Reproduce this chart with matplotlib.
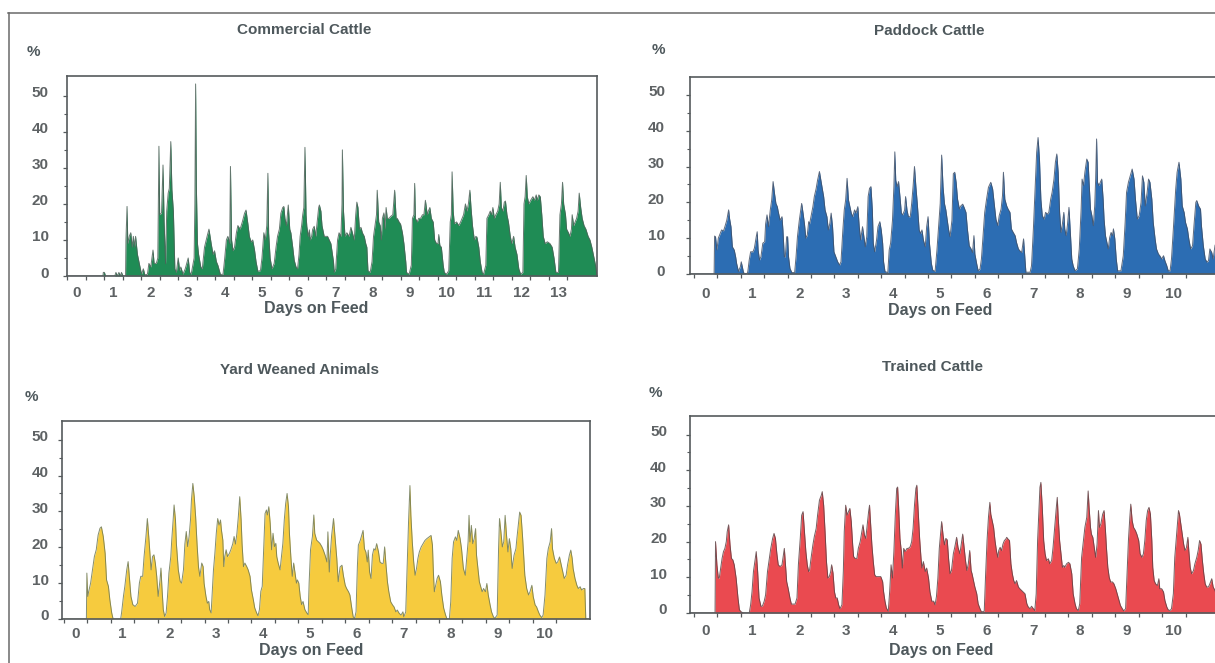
import numpy as np
import matplotlib
matplotlib.use("Agg")
import matplotlib.pyplot as plt
import matplotlib.transforms as mtransforms
from matplotlib.lines import Line2D

# ---------------- data (day on feed, % of animals at the feeder) ----------------
titles = ["Commercial Cattle", "Paddock Cattle", "Yard Weaned Animals", "Trained Cattle"]
xlabel = "Days on Feed"
ylabel = "%"
yticks = [0, 10, 20, 30, 40, 50]
commercial_days = list(range(0, 14))
other_days = list(range(0, 11))

commercial_pts = [
    (-0.22, 0), (0.72, 0), (0.73, 1), (0.76, 1), (0.79, 0), (1.04, 0), (1.07, 1), (1.11, 0), (1.15, 1), (1.19, 0), (1.22, 1), (1.26, 0),
    (1.33, 0), (1.34, 10), (1.37, 19.3), (1.39, 9), (1.43, 11), (1.47, 12), (1.51, 8), (1.54, 11), (1.57, 8), (1.60, 11), (1.65, 6),
    (1.72, 2.5), (1.76, 0.5), (1.81, 2), (1.85, 0.3), (1.92, 0.5), (1.96, 3.5), (2.01, 2.5), (2.07, 7.2), (2.10, 3.5), (2.16, 3.5), (2.20, 5),
    (2.23, 36), (2.25, 17), (2.30, 17.5), (2.34, 30.8), (2.37, 15), (2.41, 3.4), (2.44, 18), (2.48, 23), (2.51, 24.3), (2.55, 37.3),
    (2.58, 24), (2.62, 18), (2.66, 2), (2.70, 1), (2.75, 5), (2.79, 1.5), (2.82, 2.5), (2.88, 0.5), (2.94, 2), (3.02, 5), (3.06, 1), (3.10, 0.5),
    (3.18, 5), (3.20, 20), (3.22, 53.3), (3.24, 25), (3.27, 9), (3.30, 6), (3.36, 2.5), (3.40, 2), (3.46, 8), (3.53, 11), (3.58, 13),
    (3.64, 9), (3.69, 6), (3.73, 7), (3.78, 4), (3.82, 3), (3.89, 0.4), (3.96, 0.5),
    (4.00, 4.4), (4.05, 10), (4.09, 11), (4.14, 9), (4.16, 30.4), (4.19, 10), (4.23, 7), (4.27, 8), (4.32, 12), (4.36, 14), (4.42, 13),
    (4.48, 15), (4.54, 17.4), (4.58, 18.3), (4.63, 14.5), (4.67, 11), (4.72, 9.4), (4.76, 10), (4.81, 7.2), (4.85, 4), (4.90, 1.3), (4.97, 1.5),
    (5.01, 5), (5.06, 12), (5.10, 10), (5.14, 14), (5.17, 28.5), (5.19, 12), (5.23, 5), (5.28, 2), (5.34, 3.5), (5.39, 8), (5.43, 11),
    (5.48, 13), (5.52, 17.4), (5.57, 19), (5.60, 19.3), (5.63, 16), (5.67, 14), (5.72, 19.7), (5.76, 13), (5.79, 12), (5.84, 8), (5.88, 4.4),
    (5.93, 2.5), (5.97, 2),
    (6.01, 6), (6.04, 11), (6.08, 14), (6.11, 17), (6.14, 19), (6.17, 35.7), (6.20, 17), (6.22, 13.8), (6.26, 11), (6.29, 12.8), (6.31, 10),
    (6.35, 11), (6.38, 13), (6.42, 13.8), (6.46, 11), (6.51, 16), (6.54, 19), (6.56, 19.7), (6.60, 18), (6.63, 14), (6.69, 11), (6.78, 11),
    (6.87, 9), (6.94, 4), (6.96, 1),
    (7.00, 2), (7.05, 10), (7.09, 12), (7.14, 11), (7.17, 20), (7.18, 35), (7.21, 18), (7.25, 11), (7.30, 12), (7.36, 11), (7.41, 13.5),
    (7.45, 12), (7.50, 10), (7.54, 17), (7.57, 20.5), (7.60, 19), (7.64, 13), (7.68, 13.5), (7.72, 12), (7.77, 11), (7.81, 9), (7.84, 8),
    (7.87, 1.5), (7.93, 1),
    (7.98, 4), (8.02, 11), (8.06, 14), (8.10, 17), (8.12, 23.8), (8.16, 15), (8.20, 14), (8.23, 10), (8.26, 16), (8.30, 17.5), (8.33, 13),
    (8.36, 19), (8.39, 16), (8.44, 16), (8.48, 16.5), (8.54, 17), (8.59, 23.8), (8.63, 16), (8.66, 16), (8.71, 15), (8.75, 14.4), (8.80, 12),
    (8.84, 9), (8.89, 4), (8.91, 1), (8.98, 0.5),
    (9.04, 3), (9.07, 16), (9.11, 17), (9.13, 25.7), (9.15, 16), (9.20, 15), (9.24, 16), (9.29, 16), (9.34, 17), (9.38, 17), (9.42, 21),
    (9.47, 17), (9.50, 18), (9.54, 19), (9.58, 16), (9.63, 15), (9.67, 10), (9.72, 9), (9.76, 9), (9.78, 11.5), (9.81, 8.5), (9.85, 8),
    (9.90, 3), (9.93, 1), (9.99, 0.5),
    (10.05, 1.5), (10.09, 15), (10.12, 17), (10.14, 28.9), (10.17, 18), (10.20, 14.5), (10.26, 15), (10.32, 14), (10.37, 15), (10.41, 16),
    (10.45, 17), (10.50, 20), (10.54, 18), (10.58, 20), (10.62, 23.8), (10.65, 19), (10.69, 14), (10.74, 10), (10.78, 11), (10.81, 10.8),
    (10.86, 8), (10.90, 4), (10.95, 1), (10.99, 0.5),
    (11.05, 3), (11.08, 16), (11.13, 17), (11.17, 18), (11.21, 17), (11.24, 19), (11.28, 16), (11.32, 17), (11.37, 18), (11.41, 20),
    (11.44, 26), (11.47, 19), (11.51, 18), (11.55, 20.5), (11.58, 20.8), (11.62, 17), (11.66, 15), (11.71, 11), (11.75, 9), (11.80, 11),
    (11.84, 8), (11.89, 6), (11.94, 2), (11.99, 0.5),
    (12.05, 1), (12.08, 20), (12.11, 22), (12.14, 27.9), (12.17, 22), (12.21, 20), (12.26, 21), (12.32, 22), (12.36, 21), (12.41, 22.5),
    (12.44, 21), (12.48, 22.5), (12.52, 22), (12.56, 17), (12.60, 11), (12.65, 9), (12.71, 9.5), (12.78, 9), (12.84, 8), (12.89, 5), (12.94, 1),
    (13.01, 1), (13.05, 17), (13.09, 20), (13.12, 26), (13.15, 20), (13.20, 17), (13.23, 13), (13.28, 12), (13.32, 11), (13.36, 13),
    (13.38, 17), (13.42, 14), (13.46, 15), (13.50, 16), (13.54, 18), (13.57, 23), (13.61, 19), (13.65, 16), (13.70, 14), (13.75, 13),
    (13.81, 11), (13.86, 10), (13.91, 8), (13.97, 5), (14.01, 3), (14.05, 0),
]

paddock_pts = [
    (-0.35, 0), (0.18, 0), (0.19, 10.6), (0.21, 10.4), (0.24, 6.7), (0.27, 10), (0.31, 11.3), (0.34, 12.3), (0.38, 12), (0.41, 13.2),
    (0.45, 15), (0.49, 17.9), (0.51, 15.5), (0.54, 13.2), (0.57, 7.6), (0.61, 6.7), (0.64, 4.8), (0.66, 3), (0.70, 0.7), (0.74, 2),
    (0.76, 3.4), (0.79, 1.6), (0.81, 0.3), (0.88, 0),
    (0.90, 0.7), (0.93, 3.9), (0.96, 6.2), (1.01, 6.2), (1.04, 7.2), (1.08, 10.4), (1.10, 11.8), (1.12, 6.7), (1.15, 3.9), (1.18, 4.8),
    (1.22, 8.6), (1.26, 9), (1.28, 14), (1.31, 16.5), (1.34, 13.2), (1.38, 17.9), (1.41, 20.7), (1.44, 25.8), (1.47, 22.5), (1.50, 19.7),
    (1.53, 18.8), (1.55, 17.4), (1.59, 15), (1.63, 16), (1.65, 12.3), (1.68, 4.8), (1.70, 4.8), (1.73, 10.4), (1.75, 10.4), (1.77, 4.8),
    (1.80, 1.6), (1.84, 0.4),
    (1.90, 0.4), (1.93, 4.8), (1.96, 10.4), (2.00, 15), (2.03, 17.9), (2.05, 19.7), (2.08, 17), (2.11, 14), (2.14, 10), (2.17, 10.9),
    (2.20, 14.6), (2.22, 14), (2.25, 16), (2.29, 18.8), (2.32, 21.6), (2.36, 23.9), (2.39, 26.2), (2.43, 28.6), (2.46, 26.2), (2.49, 23.9),
    (2.52, 21.6), (2.55, 17.9), (2.59, 16), (2.62, 12.3), (2.65, 14), (2.68, 17), (2.71, 13.2), (2.74, 6.2), (2.78, 4.8), (2.82, 3.4), (2.86, 2.5),
    (2.89, 3.4), (2.93, 12.3), (2.96, 17.9), (2.99, 20.7), (3.02, 26.7), (3.05, 20.7), (3.08, 18.8), (3.11, 17), (3.14, 16), (3.18, 17.9),
    (3.21, 17), (3.25, 18.8), (3.28, 13.2), (3.31, 9.5), (3.35, 13.2), (3.38, 10.4), (3.41, 7.6), (3.44, 10.4), (3.47, 21.6), (3.50, 23.9),
    (3.53, 24.4), (3.56, 17.9), (3.58, 8.6), (3.61, 6.2), (3.65, 9.5), (3.68, 13.2), (3.72, 14.6), (3.75, 12.3), (3.78, 8.6), (3.80, 3.4),
    (3.83, 0.7), (3.89, 0.4),
    (3.92, 6.7), (3.95, 8.6), (3.99, 15), (4.02, 24.4), (4.04, 34.1), (4.06, 26.2), (4.09, 24.4), (4.12, 25.8), (4.15, 21.6), (4.18, 17),
    (4.21, 16.5), (4.25, 17.9), (4.27, 21.6), (4.30, 17.9), (4.33, 16), (4.37, 16), (4.40, 19.7), (4.43, 24.4), (4.46, 30), (4.49, 24.4),
    (4.52, 19.7), (4.56, 12.3), (4.59, 11.3), (4.62, 12.3), (4.65, 9.5), (4.69, 7.6), (4.72, 13.2), (4.75, 16), (4.78, 8.6), (4.82, 3),
    (4.85, 1.1), (4.90, 0.7),
    (4.94, 6.7), (4.97, 12.3), (5.01, 19.7), (5.04, 33.2), (5.07, 24.4), (5.10, 19.7), (5.13, 17.9), (5.16, 15), (5.19, 12.3), (5.22, 10.4),
    (5.26, 15), (5.29, 28), (5.32, 28.4), (5.35, 25.6), (5.38, 20.9), (5.42, 18.1), (5.45, 19), (5.49, 19.5), (5.52, 18.6), (5.56, 17.2),
    (5.59, 12.6), (5.63, 7.9), (5.67, 7), (5.70, 6), (5.73, 10.7), (5.75, 5.6), (5.79, 2.8), (5.82, 0.9), (5.86, 1.4),
    (5.89, 4.2), (5.93, 11.6), (5.96, 17.2), (6.00, 20.9), (6.04, 24.2), (6.09, 25.6), (6.13, 23.7), (6.16, 20), (6.20, 15.3), (6.24, 13.5),
    (6.27, 16.3), (6.31, 18.1), (6.34, 21.9), (6.36, 28.4), (6.39, 20.9), (6.43, 19), (6.46, 18.1), (6.50, 17.2), (6.53, 12.6), (6.57, 11.6),
    (6.61, 10.7), (6.64, 8.8), (6.68, 7), (6.71, 6.5), (6.75, 6), (6.79, 9.8), (6.82, 4.2), (6.84, 0.5), (6.93, 0.5),
    (6.96, 2.3), (7.00, 12.6), (7.03, 21.9), (7.07, 34), (7.10, 38.1), (7.13, 32.1), (7.16, 20.9), (7.19, 16.3), (7.23, 15.3), (7.26, 17.2),
    (7.30, 16.7), (7.33, 17.2), (7.37, 20.9), (7.40, 22.8), (7.44, 26.5), (7.47, 31.2), (7.50, 33.5), (7.53, 28.4), (7.56, 17.2), (7.59, 11.6),
    (7.62, 14), (7.65, 17.2), (7.67, 12.6), (7.70, 10.7), (7.73, 14), (7.76, 18.6), (7.79, 11.6), (7.82, 4.2), (7.85, 2.3), (7.89, 0.9), (7.94, 1.4),
    (7.98, 7), (8.02, 18.1), (8.04, 26.5), (8.07, 24.7), (8.10, 28.4), (8.14, 32.1), (8.17, 31.2), (8.19, 25.6), (8.22, 18.1), (8.25, 16.3),
    (8.28, 13.5), (8.31, 19), (8.33, 26.5), (8.35, 37.7), (8.37, 25.6), (8.40, 24.7), (8.43, 25.6), (8.46, 26.5), (8.49, 20.9), (8.51, 15.3),
    (8.54, 10.7), (8.57, 8.8), (8.60, 7), (8.63, 10.2), (8.66, 11.6), (8.69, 10.7), (8.71, 12.6), (8.74, 9.8), (8.77, 4.2), (8.80, 0.9), (8.87, 0.9),
    (8.92, 5.1), (8.96, 14.4), (8.99, 22.8), (9.03, 25.6), (9.07, 27.4), (9.11, 29.3), (9.15, 26.5), (9.18, 20.9), (9.22, 15.3), (9.26, 16.3),
    (9.30, 20), (9.33, 27.4), (9.36, 25.6), (9.39, 19), (9.43, 22.8), (9.46, 26.5), (9.49, 25.6), (9.53, 20.9), (9.56, 14.4), (9.60, 9.8),
    (9.63, 7), (9.67, 5.6), (9.70, 5.1), (9.74, 4.2), (9.78, 5.1), (9.81, 3.7), (9.85, 2.3), (9.88, 0.9), (9.92, 0.9),
    (9.95, 4.2), (9.99, 12.6), (10.04, 23.7), (10.07, 28.4), (10.11, 31.2), (10.15, 26.5), (10.18, 19), (10.22, 17.2), (10.25, 14.4),
    (10.29, 12.6), (10.32, 9.8), (10.36, 7), (10.40, 7.9), (10.43, 13.5), (10.47, 20), (10.49, 20.5), (10.53, 19), (10.57, 18.1),
    (10.59, 13.5), (10.63, 7.9), (10.67, 4.2), (10.71, 3.3), (10.74, 3.7), (10.77, 7), (10.81, 6), (10.84, 4.2), (10.88, 8), (10.92, 9),
    (10.96, 5), (11.0, 2), (11.05, 0), (11.25, 0),
]

yard_pts = [
    (-0.3, 0), (0.23, 0), (0.24, 12.8), (0.26, 6.3), (0.28, 7.7), (0.32, 10), (0.36, 13.7), (0.40, 17.4), (0.44, 19.3), (0.48, 23.4),
    (0.52, 25.3), (0.55, 25.7), (0.59, 23), (0.63, 18.3), (0.66, 10.9), (0.70, 9.1), (0.73, 5.4), (0.77, 1.7), (0.80, 0), (0.96, 0),
    (0.98, 1.7), (1.02, 6.3), (1.05, 9.1), (1.09, 13.7), (1.12, 16), (1.14, 12.8), (1.18, 6.3), (1.22, 4), (1.27, 3.5), (1.32, 4.4),
    (1.36, 10), (1.39, 11.9), (1.43, 11.9), (1.46, 17.4), (1.50, 23), (1.53, 28), (1.56, 23), (1.59, 17.4), (1.61, 13.7), (1.64, 17.4),
    (1.67, 17.9), (1.70, 15.6), (1.73, 11.9), (1.76, 6.3), (1.80, 10.9), (1.82, 14.2), (1.84, 9.1), (1.87, 2.6), (1.90, 0.7),
    (1.93, 1.7), (1.96, 6.3), (1.99, 12.8), (2.03, 17.4), (2.05, 22), (2.08, 27.6), (2.10, 31.8), (2.13, 27.6), (2.15, 20.9), (2.19, 13.7),
    (2.23, 10.5), (2.26, 10), (2.30, 13.7), (2.33, 20.9), (2.36, 24.4), (2.39, 20.2), (2.42, 23), (2.45, 27.6), (2.47, 33.1), (2.50, 37.8),
    (2.53, 34.1), (2.56, 28.5), (2.59, 20.9), (2.62, 14.6), (2.65, 11.9), (2.69, 15.6), (2.72, 14.6), (2.74, 10), (2.78, 6.3), (2.81, 4.4),
    (2.84, 4.9), (2.86, 2.6),
    (2.89, 1.7), (2.91, 6.3), (2.94, 13.7), (2.97, 18.3), (3.00, 23.9), (3.03, 28), (3.06, 26.2), (3.09, 27.6), (3.11, 24.8), (3.14, 22),
    (3.16, 14.6), (3.18, 17.4), (3.21, 19.3), (3.24, 17.4), (3.28, 18.3), (3.31, 19.3), (3.35, 20.9), (3.38, 23), (3.41, 20.9), (3.44, 23.9),
    (3.47, 28.5), (3.50, 34.1), (3.53, 27.6), (3.55, 20.9), (3.58, 14.6), (3.61, 15.6), (3.65, 14.6), (3.68, 13.7), (3.72, 11.9), (3.75, 8.1),
    (3.79, 5.4), (3.82, 3.1), (3.86, 1.7), (3.89, 0.9),
    (3.92, 2.6), (3.95, 7.7), (3.98, 9.1), (4.01, 19.3), (4.04, 29.4), (4.07, 30.4), (4.09, 29), (4.12, 31.3), (4.15, 26.7), (4.18, 19.3),
    (4.21, 23.9), (4.24, 20.2), (4.27, 21.1), (4.29, 17.4), (4.32, 15.6), (4.36, 13.7), (4.39, 17.4), (4.42, 21.1), (4.45, 27.6), (4.48, 32.2),
    (4.51, 35), (4.54, 31.3), (4.56, 23.9), (4.59, 17.4), (4.62, 11.9), (4.65, 15.6), (4.68, 12.8), (4.71, 10), (4.73, 10.9), (4.76, 10),
    (4.79, 6.3), (4.82, 4), (4.85, 4.9), (4.89, 2.6), (4.93, 1.7), (4.96, 1.2),
    (4.98, 10), (5.01, 19.3), (5.05, 23), (5.08, 29), (5.10, 23.9), (5.14, 22), (5.17, 21.6), (5.21, 21.1), (5.25, 20.2), (5.28, 19.3),
    (5.32, 17.8), (5.36, 15.9), (5.38, 24.3), (5.41, 13.1), (5.43, 17.8), (5.46, 23.3), (5.50, 28), (5.53, 23.3), (5.57, 16.9), (5.60, 10.4),
    (5.64, 14.5), (5.68, 15), (5.71, 12.2), (5.75, 9.4), (5.78, 8.5), (5.82, 7.6), (5.85, 6.7), (5.89, 3), (5.92, 0.6), (5.95, 0.2),
    (5.98, 2), (6.01, 15), (6.03, 20.6), (6.07, 21.9), (6.10, 23.3), (6.13, 24.7), (6.16, 19.6), (6.19, 18.7), (6.22, 15.9), (6.24, 19.2),
    (6.27, 13.1), (6.30, 11.3), (6.33, 17.8), (6.36, 19.6), (6.39, 19.2), (6.42, 21), (6.46, 18.7), (6.49, 15.9), (6.53, 15.5), (6.56, 15.5),
    (6.59, 20.1), (6.62, 15), (6.65, 10.4), (6.68, 7.6), (6.72, 4.8), (6.76, 3.9), (6.79, 3.4), (6.83, 2), (6.86, 2.5), (6.90, 1.6),
    (6.94, 1.1), (6.98, 2), (7.00, 0.6),
    (7.04, 2), (7.07, 15), (7.10, 27), (7.13, 37.2), (7.15, 28.9), (7.18, 21.5), (7.21, 15.9), (7.24, 12.2), (7.27, 14.1), (7.30, 16.9),
    (7.33, 18.7), (7.37, 20.1), (7.41, 21), (7.45, 21.9), (7.49, 22.4), (7.54, 22.9), (7.58, 23.3), (7.61, 20.6), (7.63, 13.1), (7.65, 7.6),
    (7.68, 9.4), (7.71, 11.3), (7.74, 12.2), (7.78, 10.4), (7.81, 6.7), (7.85, 3), (7.89, 1.1), (7.92, 0), (7.97, 0),
    (8.00, 4.8), (8.03, 16.9), (8.06, 21.5), (8.10, 22.9), (8.13, 21.9), (8.16, 24.7), (8.20, 22.4), (8.23, 19.6), (8.27, 14.1), (8.31, 12.2),
    (8.34, 16.9), (8.37, 21.5), (8.39, 28.9), (8.41, 21.5), (8.44, 26.1), (8.47, 21), (8.50, 22.4), (8.53, 25.2), (8.55, 17.8), (8.58, 14.1),
    (8.61, 10.4), (8.65, 8.5), (8.67, 7.6), (8.70, 8.5), (8.74, 7.6), (8.77, 9.9), (8.80, 6.7), (8.84, 3.9), (8.87, 2), (8.91, 0.6), (8.94, 0.2),
    (8.99, 1.1), (9.02, 19.6), (9.04, 28), (9.07, 24.3), (9.10, 20.1), (9.13, 21.5), (9.16, 28.9), (9.19, 23.3), (9.22, 18.7), (9.25, 22.4),
    (9.28, 19.6), (9.31, 14.1), (9.35, 17.8), (9.39, 19.6), (9.41, 22.4), (9.44, 26.1), (9.47, 29.8), (9.50, 28.9), (9.53, 23.3), (9.56, 16.9),
    (9.58, 12.2), (9.62, 8.5), (9.66, 6.7), (9.69, 7.6), (9.73, 9.4), (9.76, 6.2), (9.80, 3.9), (9.83, 3.4), (9.87, 2), (9.90, 1.1), (9.94, 0.4),
    (9.97, 1.1), (10.01, 6.7), (10.05, 16.9), (10.08, 19.6), (10.12, 21.5), (10.15, 25.2), (10.17, 19.6), (10.21, 16.9), (10.25, 15.5),
    (10.28, 15.9), (10.32, 17.3), (10.35, 15.5), (10.39, 13.1), (10.42, 11.3), (10.46, 12.2), (10.49, 15), (10.53, 17.8), (10.56, 19.2),
    (10.59, 16.9), (10.61, 14.1), (10.65, 11.3), (10.69, 9.4), (10.72, 8.5), (10.76, 9), (10.79, 8.1), (10.83, 8.5), (10.86, 8.5),
    (10.88, 0), (10.97, 0),
]

trained_pts = [
    (-0.35, 0), (0.20, 0), (0.21, 20), (0.24, 13.5), (0.27, 9.8), (0.29, 9.8), (0.32, 12.6), (0.35, 15.3), (0.38, 17.2), (0.41, 18.1),
    (0.44, 20), (0.46, 22.8), (0.49, 24.7), (0.52, 19.1), (0.55, 15.3), (0.58, 14.9), (0.61, 13.5), (0.65, 9.8), (0.69, 4.2), (0.72, 0.9),
    (0.76, 0.3), (0.81, 0), (0.93, 0),
    (0.96, 2.3), (0.99, 6), (1.02, 11.6), (1.06, 15.3), (1.08, 17.2), (1.11, 11.6), (1.14, 4.2), (1.18, 1.9), (1.21, 1.9), (1.25, 3.3),
    (1.28, 5.1), (1.32, 11.6), (1.35, 14.4), (1.39, 18.1), (1.43, 20.9), (1.46, 22.3), (1.49, 20.9), (1.52, 16.7), (1.55, 13.5), (1.59, 13),
    (1.63, 13.5), (1.65, 15.3), (1.68, 18.1), (1.70, 14.4), (1.73, 8.8), (1.76, 7), (1.80, 4.2), (1.83, 2.5), (1.91, 2.5),
    (1.95, 4.2), (1.98, 13.5), (2.02, 20.9), (2.05, 27.4), (2.08, 28.4), (2.11, 22.8), (2.14, 17.2), (2.17, 13.5), (2.20, 11.6), (2.22, 12.1),
    (2.25, 15.3), (2.29, 19.1), (2.32, 21.4), (2.36, 23.7), (2.39, 27.4), (2.43, 31.6), (2.47, 33), (2.49, 34), (2.52, 30.2), (2.55, 22.8),
    (2.58, 14.4), (2.61, 9.8), (2.64, 10.2), (2.67, 11.6), (2.69, 13.5), (2.72, 11.2), (2.75, 6), (2.78, 4.2), (2.81, 4.2), (2.84, 2.3), (2.87, 1.2),
    (2.91, 2.3), (2.94, 11.6), (2.96, 22.8), (2.99, 30.2), (3.02, 27.4), (3.05, 28.4), (3.08, 29.3), (3.11, 25.6), (3.14, 19.1), (3.16, 15.8),
    (3.19, 15.3), (3.23, 15.3), (3.26, 18.1), (3.30, 20), (3.33, 22.3), (3.36, 24.7), (3.39, 21.9), (3.42, 20.9), (3.45, 24.7), (3.48, 28.4),
    (3.50, 30.2), (3.52, 25.6), (3.55, 19.1), (3.58, 14.4), (3.61, 10.7), (3.64, 10.2), (3.69, 10.2), (3.74, 10.2), (3.78, 8.8), (3.80, 6),
    (3.83, 3.3), (3.86, 1.4), (3.90, 0.5),
    (3.93, 6), (3.96, 13.5), (3.99, 9.8), (4.02, 17.2), (4.05, 27.4), (4.08, 34.9), (4.10, 35.3), (4.12, 30.2), (4.15, 20.9), (4.18, 17.2),
    (4.20, 12.6), (4.23, 18.1), (4.26, 17.2), (4.30, 18.1), (4.33, 18.1), (4.37, 18.6), (4.40, 20), (4.43, 23.7), (4.46, 30.2), (4.49, 34.9),
    (4.51, 35.8), (4.54, 28.4), (4.57, 20.9), (4.60, 15.3), (4.62, 12.6), (4.65, 14.4), (4.69, 11.6), (4.72, 12.6), (4.76, 9.8), (4.79, 6),
    (4.83, 3.3), (4.87, 3.3), (4.90, 2.3),
    (4.93, 4.7), (4.96, 9.8), (4.99, 18.1), (5.02, 22.8), (5.04, 25.6), (5.07, 21.9), (5.10, 19.1), (5.13, 20.9), (5.16, 20.5), (5.19, 15),
    (5.22, 11), (5.25, 11.9), (5.29, 16.6), (5.32, 18.4), (5.36, 21.2), (5.39, 18.4), (5.43, 16.6), (5.47, 20.3), (5.49, 22.1), (5.52, 18.4),
    (5.55, 14.7), (5.58, 11.9), (5.61, 13.8), (5.64, 17.5), (5.67, 11.9), (5.69, 11), (5.72, 9.1), (5.75, 7.3), (5.79, 5.4), (5.82, 2.6),
    (5.86, 1.2), (5.89, 0.3), (5.95, 0.5),
    (5.98, 11), (6.01, 20.3), (6.04, 26.8), (6.07, 31), (6.09, 27.7), (6.12, 25.9), (6.15, 24), (6.18, 20.3), (6.21, 17.5), (6.24, 15.6),
    (6.26, 17.5), (6.29, 18.4), (6.32, 17.5), (6.35, 19.3), (6.38, 20.3), (6.41, 20.7), (6.43, 21.2), (6.46, 20.7), (6.49, 20.3), (6.52, 13.8),
    (6.55, 11), (6.58, 9.1), (6.61, 8.2), (6.64, 9.1), (6.68, 7.3), (6.71, 6.8), (6.75, 6.3), (6.78, 5.9), (6.82, 5.4), (6.86, 2.6),
    (6.89, 1.7), (6.93, 1.2), (6.96, 1.9), (7.00, 1.2), (7.03, 0.7),
    (7.06, 5.4), (7.09, 20.3), (7.12, 29.6), (7.14, 35.2), (7.16, 36.6), (7.19, 29.6), (7.22, 20.3), (7.25, 16.6), (7.28, 14.7), (7.32, 15.2),
    (7.35, 13.8), (7.39, 14.7), (7.42, 18.4), (7.46, 24.9), (7.49, 29.6), (7.51, 32.4), (7.53, 26.8), (7.56, 20.3), (7.59, 16.6), (7.62, 12.8),
    (7.65, 13.3), (7.67, 12.8), (7.71, 13.8), (7.75, 14.2), (7.78, 13.8), (7.82, 11), (7.85, 5.4), (7.89, 2.6), (7.92, 1.2), (7.96, 0.7),
    (7.99, 2.6), (8.03, 15.6), (8.07, 20.3), (8.10, 24), (8.14, 26.8), (8.17, 34.2), (8.19, 29.6), (8.22, 24), (8.24, 22.1), (8.27, 21.2),
    (8.30, 18.4), (8.33, 15.6), (8.36, 19.3), (8.39, 28.7), (8.41, 24), (8.44, 24.9), (8.48, 27.7), (8.51, 28.7), (8.54, 23.1), (8.56, 18.4),
    (8.59, 12.8), (8.62, 10), (8.65, 8.7), (8.69, 8.7), (8.72, 8.2), (8.76, 6.8), (8.79, 5.4), (8.83, 3.5), (8.86, 2.1), (8.90, 1.2), (8.93, 0.6),
    (8.97, 1.2), (9.00, 11), (9.03, 20.3), (9.06, 26.8), (9.08, 30.5), (9.11, 25.9), (9.14, 24), (9.18, 23.1), (9.21, 22.1), (9.25, 20.3),
    (9.28, 16.6), (9.32, 15.6), (9.35, 16.6), (9.38, 20.3), (9.41, 25.9), (9.44, 28.7), (9.47, 29.6), (9.50, 27.7), (9.53, 20.3), (9.55, 12.8),
    (9.58, 9.1), (9.61, 8.2), (9.65, 7.7), (9.68, 9.6), (9.70, 6.8), (9.74, 6.8), (9.78, 5.9), (9.81, 3.5), (9.85, 1.7), (9.88, 0.9), (9.92, 0.7),
    (9.95, 1.2), (9.99, 5.4), (10.02, 15.6), (10.06, 22.1), (10.10, 28.7), (10.12, 27.7), (10.15, 24.9), (10.18, 22.1), (10.21, 19.3),
    (10.24, 17.5), (10.27, 18.4), (10.30, 21.2), (10.32, 17.5), (10.35, 12.8), (10.38, 11), (10.42, 11.9), (10.45, 13.8), (10.49, 15.6),
    (10.52, 17.5), (10.55, 20.3), (10.58, 19.3), (10.61, 14.7), (10.64, 11), (10.67, 8.2), (10.70, 7.3), (10.74, 7.3), (10.77, 8.2),
    (10.81, 9.6), (10.84, 7.3), (10.88, 6.3), (10.93, 4), (10.97, 1), (11.0, 0), (11.25, 0),
]

# ---------------- figure ----------------
W, H = 1215, 663
fig = plt.figure(figsize=(W / 100, H / 100), dpi=100)
plt.rcParams['font.family'] = ['Liberation Sans', 'DejaVu Sans']

TXT = '#4e585c'
TICK = '#5e6264'
SPINE = '#555a5c'

# outer frame of the scanned page
fig.add_artist(Line2D([8 / W, 1.0], [1 - 13 / H, 1 - 13 / H], color='#6a6a6a', lw=1.1))
fig.add_artist(Line2D([9 / W, 9 / W], [1 - 13 / H, 0.0], color='#6a6a6a', lw=1.1))

panels = [
    dict(pts=commercial_pts, fill='#1f8c55', edge='#4d6158', box=(67, 76, 597, 276), xlim=(-0.2, 14.05), ylim=(0, 55.5),
         days=commercial_days, ypad=10, xpad=7.5, title=(304, 30), pct=(33, 52), xl=(316, 309), name=titles[0]),
    dict(pts=paddock_pts, fill='#2c6db3', edge='#405068', box=(690, 77, 1230, 274), xlim=(-0.335, 11.2), ylim=(0, 55),
         days=other_days, ypad=15, xpad=9, title=(929, 31), pct=(658, 50), xl=(940, 311), name=titles[1]),
    dict(pts=yard_pts, fill='#f6cb3e', edge='#6f7a55', box=(62, 421, 590, 619), xlim=(-0.29, 10.97), ylim=(0, 55.2),
         days=other_days, ypad=6.5, xpad=5.5, title=(299, 370), pct=(31, 397), xl=(311, 650), name=titles[2]),
    dict(pts=trained_pts, fill='#ea4a50', edge='#5e4245', box=(690, 416, 1230, 613), xlim=(-0.335, 11.2), ylim=(0, 55.2),
         days=other_days, ypad=13.5, xpad=8, title=(932, 367), pct=(655, 393), xl=(941, 650), name=titles[3]),
]

# y tick labels in the scan sit a few pixels above their ticks
lift = mtransforms.ScaledTranslation(0, 4 / 100, fig.dpi_scale_trans)

for p in panels:
    l, t, r, b = p['box']
    ax = fig.add_axes([l / W, 1 - b / H, (r - l) / W, (b - t) / H])
    arr = np.array(p['pts'], dtype=float)
    x, y = arr[:, 0], arr[:, 1]
    ax.fill_between(x, y, 0, color=p['fill'], linewidth=0)
    ax.plot(x, y, color=p['edge'], lw=0.7, alpha=0.85)
    ax.set_xlim(*p['xlim'])
    ax.set_ylim(*p['ylim'])

    ax.set_yticks(yticks)
    ax.set_yticks(np.arange(0, 55, 5), minor=True)
    ax.set_xticks(p['days'])
    ax.set_xticklabels([str(d) for d in p['days']])
    ax.set_xticks(np.concatenate([np.array(p['days']) - 0.25, np.array(p['days']) + 0.25]), minor=True)

    ax.tick_params(axis='y', which='major', direction='out', length=3, width=0.9, color=SPINE,
                   labelsize=11, labelcolor=TICK, pad=p['ypad'])
    ax.tick_params(axis='y', which='minor', direction='out', length=2, width=0.8, color=SPINE)
    ax.tick_params(axis='x', which='major', length=0, labelsize=11, labelcolor=TICK, pad=p['xpad'])
    ax.tick_params(axis='x', which='minor', direction='out', length=3, width=0.9, color=SPINE)
    for lab in ax.get_xticklabels():
        lab.set_fontweight('bold')
    for lab in ax.get_yticklabels():
        lab.set_fontweight('bold')
        lab.set_transform(lab.get_transform() + lift)

    for s in ax.spines.values():
        s.set_color(SPINE)
        s.set_linewidth(1.2)

    tx, ty = p['title']
    fig.text(tx / W, 1 - ty / H, p['name'], ha='center', va='center', fontsize=11, fontweight='bold', color=TXT)
    px_, py_ = p['pct']
    fig.text(px_ / W, 1 - py_ / H, ylabel, ha='center', va='center', fontsize=11, fontweight='bold', color=TXT)
    lx, ly = p['xl']
    fig.text(lx / W, 1 - ly / H, xlabel, ha='center', va='center', fontsize=11.5, fontweight='bold', color=TXT)

fig.savefig('out.png', dpi=100, facecolor='white')
